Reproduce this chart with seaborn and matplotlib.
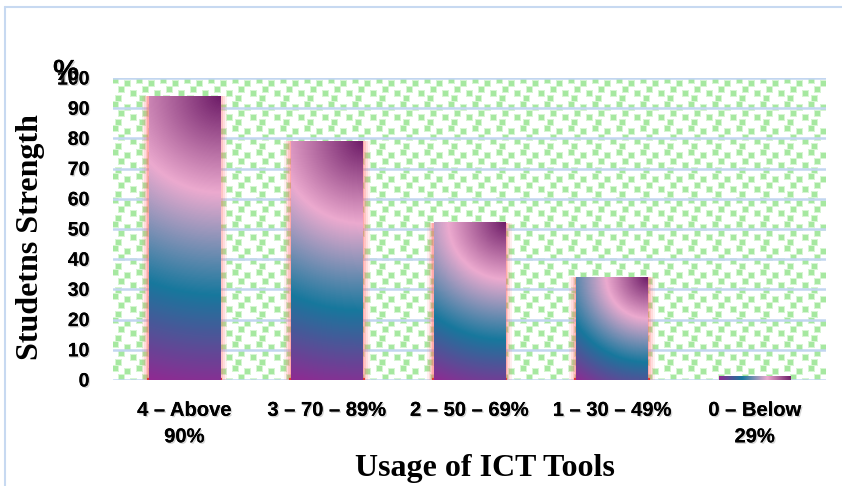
import numpy as np
import matplotlib
matplotlib.use("Agg")
import matplotlib.pyplot as plt
import seaborn as sns
import pandas as pd
from matplotlib.colors import LinearSegmentedColormap
from matplotlib.patches import Rectangle
from matplotlib.lines import Line2D
import matplotlib.patheffects as pe

# ---- data ----
categories = ["4 – Above\n90%", "3 – 70 – 89%", "2 – 50 – 69%", "1 – 30 – 49%", "0 – Below\n29%"]
values = [94, 79, 52, 34, 1]
yticks = [0, 10, 20, 30, 40, 50, 60, 70, 80, 90, 100]
ylabel = "Studetns Strength"
xlabel = "Usage of ICT Tools"

df = pd.DataFrame({"cat": categories, "val": values})

sns.set_theme(style="white")
plt.rcParams["font.family"] = ["Liberation Sans", "DejaVu Sans"]

W, H = 842, 486
fig = plt.figure(figsize=(W / 100, H / 100), dpi=100)
ax_l, ax_r, ax_t, ax_b = 113, 826, 78, 380
ax = fig.add_axes([ax_l / W, 1 - ax_b / H, (ax_r - ax_l) / W, (ax_b - ax_t) / H])

sns.barplot(data=df, x="cat", y="val", ax=ax, width=0.5, color="#1a7a9c", zorder=3)
ax.set_xlim(-0.5, len(categories) - 0.5)
ax.set_ylim(0, 100)

# background confetti texture
pw, ph = ax_r - ax_l, ax_b - ax_t
tex = np.ones((ph, pw, 3))
green = np.array([166, 232, 160]) / 255
halo = np.array([214, 245, 210]) / 255
tile = 24
yy, xx = np.mgrid[0:ph, 0:pw]
core = np.zeros((ph, pw), bool)
outer = np.zeros((ph, pw), bool)
for (r0, c0) in [(0, 0), (3, 12), (9, 6), (13, 18), (18, 3)]:
    ry, rx = (yy - r0) % tile, (xx - c0) % tile
    core |= (ry < 5) & (rx < 5)
    outer |= ((ry < 6) | (ry == tile - 1)) & ((rx < 6) | (rx == tile - 1))
tex[outer] = halo
tex[core] = green
ax.imshow(tex, extent=(-0.5, len(categories) - 0.5, 0, 100), aspect="auto",
          interpolation="nearest", zorder=0.1)

ax.set_axisbelow(True)
ax.yaxis.grid(True, color="#C2D6F0", lw=1.8, zorder=0.5)
ax.xaxis.grid(False)
for s in ax.spines.values():
    s.set_visible(False)

# gradient bars
cmap = LinearSegmentedColormap.from_list(
    "g", [(0.0, "#6E1C68"), (0.33, "#ECAACF"), (0.68, "#17789D"), (1.0, "#902A92")])
pxx = pw / len(categories)
pxy = ph / 100
for p in list(ax.patches):
    x0, y0, w, h = p.get_x(), p.get_y(), p.get_width(), p.get_height()
    wpx, hpx = w * pxx, h * pxy
    nx, ny = max(int(round(wpx)), 2), max(int(round(hpx)), 2)
    xf = (np.arange(nx) + 0.5) / nx
    yf = (np.arange(ny) + 0.5) / ny
    U, V = np.meshgrid((1 - xf) * wpx, yf * hpx)
    r = np.sqrt(U ** 2 + V ** 2) / np.sqrt(wpx ** 2 + hpx ** 2)
    img = cmap(r)
    if h > 2:
        for k, a in [(7, 0.10), (5, 0.14), (3, 0.2), (1.5, 0.3)]:
            dx = k / pxx
            ax.add_patch(Rectangle((x0 - dx, y0), w + 2 * dx, h, facecolor="#FF6A6A",
                                   edgecolor="none", alpha=a, zorder=2))
        ax.plot([x0 - 2 / pxx, x0 + w + 2 / pxx], [0.2, 0.2], color="#E03A3A", lw=1.6,
                zorder=2.5, solid_capstyle="butt")
    ax.imshow(img, extent=(x0, x0 + w, y0, y0 + h), aspect="auto", origin="upper",
              interpolation="bilinear", zorder=3)
    p.set_facecolor("none")
    p.set_edgecolor("none")
ax.set_xlim(-0.5, len(categories) - 0.5)
ax.set_ylim(0, 100)

shadow = [pe.withSimplePatchShadow(offset=(1, -1), shadow_rgbFace="#888888", alpha=0.35), pe.Normal()]
ax.set_yticks(yticks)
ax.set_yticklabels([str(t) for t in yticks], fontsize=14, fontweight="bold", color="black")
ax.tick_params(axis="y", length=0, pad=17)
ax.set_xticks(range(len(categories)))
ax.set_xticklabels(categories, fontsize=14.5, fontweight="bold", color="black", linespacing=1.5)
ax.tick_params(axis="x", length=0, pad=15)
for t in ax.get_xticklabels() + ax.get_yticklabels():
    t.set_path_effects(shadow)

ax.set_ylabel(ylabel, fontfamily=["Liberation Serif"], fontweight="bold", fontsize=23, color="black")
ax.yaxis.set_label_coords((31 - ax_l) / pw, (ax_b - 237) / ph)
ax.yaxis.label.set_va("center")
ax.set_xlabel(xlabel, fontfamily=["Liberation Serif"], fontweight="bold", fontsize=23, color="black")
ax.xaxis.set_label_coords((485 - ax_l) / pw, (ax_b - 468) / ph)
ax.xaxis.label.set_va("center")

fig.text(66 / W, 1 - 72 / H, "%", ha="center", va="center", fontsize=21, fontweight="bold",
         color="black", path_effects=shadow)

# chart-area border
bc = "#C7D9F1"
fig.add_artist(Line2D([5 / W, 5 / W], [0, 1 - 7 / H], color=bc, lw=1.5))
fig.add_artist(Line2D([5 / W, 1], [1 - 7 / H, 1 - 7 / H], color=bc, lw=1.5))

fig.savefig("out.png", dpi=100, facecolor="white")
